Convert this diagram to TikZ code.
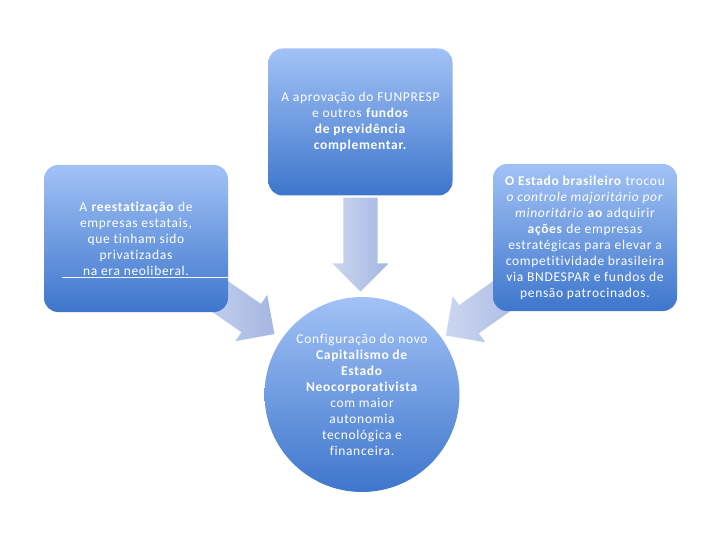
\documentclass[tikz,border=0pt]{standalone}
\usepackage{fontspec}
\setmainfont{Carlito}[LetterSpace=5,Ligatures=NoCommon]
\usetikzlibrary{shapes.arrows,backgrounds}
\definecolor{boxtop}{RGB}{162,194,246}
\definecolor{boxbot}{RGB}{62,118,204}
\definecolor{arrtail}{RGB}{204,214,240}
\definecolor{arrtip}{RGB}{164,183,225}
\tikzset{
  txt/.style={text=white, align=center, font=\fontsize{13.5pt}{16pt}\selectfont},
  box/.style={txt, rounded corners=14pt, top color=boxtop, bottom color=boxbot,
    minimum width=184pt, minimum height=147pt, inner sep=0pt},
  hubnode/.style={txt, circle, top color=boxtop, bottom color=boxbot,
    minimum size=195pt, inner sep=0pt},
  fatarrow/.style={single arrow, single arrow head extend=11pt, single arrow tip angle=90,
    minimum width=56pt, minimum height=94pt, inner xsep=0pt, inner ysep=17pt,
    left color=arrtail, right color=arrtip, sloped, allow upside down},
}
\begin{document}
\begin{tikzpicture}[x=1pt,y=-1pt]
      \useasboundingbox (0,0) rectangle (720,540);
      \node[box] (funds) at (360.5,122) {A aprovação do FUNPRESP\\e outros \textbf{fundos}\\\textbf{de previdência}\\\textbf{complementar.}};
      \node[box] (reest) at (136,238.5) {A \textbf{reestatização} de\\empresas estatais,\\que tinham sido\\privatizadas\\na era neoliberal.};
      \node[box] (swap) at (585,237.5) {\textbf{O Estado brasileiro} trocou\\\textit{o controle majoritário por}\\\textit{minoritário} \textbf{ao} adquirir\\\textbf{ações} de empresas\\estratégicas para elevar a\\competitividade brasileira\\via BNDESPAR e fundos de\\pensão patrocinados.};
      \node[hubnode] (hub) at (362,394.5) {Configuração do novo\\\textbf{Capitalismo de}\\\textbf{Estado}\\\textbf{Neocorporativista}\\com maior\\autonomia\\tecnológica e\\financeira.};
      \coordinate (uline) at (62,277);
      \draw[white!85!boxtop, line width=0.7pt] (uline) -- (uline -| reest.east);
      \begin{scope}[on background layer]
        \path (funds.center) -- (funds.center |- hub.center) node[fatarrow, pos=0.418] (adown) {};
        \path (reest.center) -- (hub.center) node[fatarrow, pos=0.41] (aleft) {};
        \path (swap.center) -- (hub.center) node[fatarrow, pos=0.42] (aright) {};
      \end{scope}
    \end{tikzpicture}
\end{document}
